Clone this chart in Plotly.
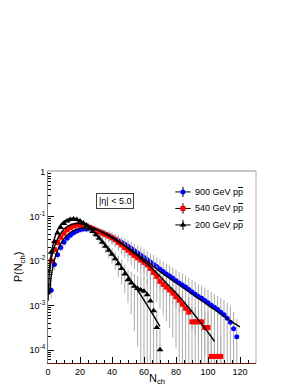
import plotly.graph_objects as go

# ---------------- data ----------------
n_900 = list(range(2, 120, 2))
p_900 = [0.0022, 0.0083, 0.0138, 0.0200, 0.0265, 0.0325, 0.038, 0.043, 0.047, 0.050,
         0.052, 0.0525, 0.052, 0.0505, 0.048, 0.0455, 0.043, 0.040, 0.037, 0.034,
         0.031, 0.0285, 0.026, 0.0236,
         0.0214, 0.0191, 0.0170, 0.0151, 0.0135, 0.0120, 0.0107, 0.0095, 0.0083, 0.0074,
         0.0065, 0.0058, 0.0051, 0.0046, 0.0041, 0.0036, 0.0032, 0.0029, 0.0026, 0.0023,
         0.0020, 0.0018, 0.0016, 0.00145, 0.00129, 0.00115, 0.00102, 0.00091, 0.00081,
         0.00071, 0.00062, 0.00052, 0.00042, 0.0003, 0.0002]
rel_900 = [.35, .25, .2, .18, .16, .15, .15, .15, .15, .15,
           .16, .17, .18, .19, .2, .22, .24, .26, .28, .3,
           .32, .34, .36, .38, .4, .42, .45, .48, .51, .54,
           .57, .6, .62, .64, .66, .68, .7, .72, .74, .76,
           .78, .8, .82, .84, .86, .88, .9, .92, .94, .96,
           .98, 1.0, 1.05, 1.1, 1.15, 1.2, 1.3, 1.4, 1.5]

n_540 = list(range(2, 110, 2))
p_540 = [0.010, 0.018, 0.026, 0.034, 0.042, 0.050, 0.056, 0.061, 0.064, 0.065,
         0.064, 0.061, 0.057, 0.053, 0.049, 0.045, 0.042, 0.039, 0.036, 0.033,
         0.030, 0.026, 0.023, 0.020, 0.0175, 0.0152, 0.0133, 0.0118, 0.0105, 0.0093,
         0.0082, 0.0068, 0.0055, 0.0045, 0.0035, 0.0030, 0.0026, 0.00224, 0.0019, 0.00158,
         0.00132, 0.00107, 0.00087, 0.00071, 0.00043, 0.00043, 0.00043, 0.00043, 0.00032, 0.00032,
         7.2e-5, 7.2e-5, 7.2e-5, 7.2e-5]
rel_540 = [.3, .22, .18, .16, .15, .14, .14, .14, .14, .14,
           .15, .16, .17, .18, .2, .22, .24, .26, .28, .3,
           .32, .35, .38, .41, .44, .47, .5, .53, .56, .6,
           .63, .66, .7, .73, .76, .8, .83, .86, .9, .93,
           .96, 1.0, 1.05, 1.1, 1.2, 1.2, 1.2, 1.2, 1.3, 1.3,
           2.0, 2.0, 2.0, 2.0]

n_200 = list(range(0, 72, 2))
p_200 = [0.0059, 0.0158, 0.0275, 0.0427, 0.0562, 0.0692, 0.0794, 0.0851, 0.0871, 0.0851,
         0.0794, 0.0708, 0.0631, 0.0537, 0.0457, 0.0389, 0.0324, 0.0263, 0.0214, 0.0174,
         0.0141, 0.0112, 0.0087, 0.0068, 0.0051, 0.0038, 0.0032, 0.0027, 0.0024, 0.00224,
         0.00209, 0.00174, 0.00126, 0.00076, 0.00032, 0.000102]
rel_200 = [.4, .25, .15, .12, .1, .1, .1, .1, .1, .1,
           .11, .12, .14, .16, .18, .2, .23, .26, .3, .34,
           .38, .43, .5, .56, .63, .7, .8, .9, .95, 1.0,
           1.05, 1.1, 1.2, 1.3, 1.5, 2.0]

# NBD fit curves
fit_n_900 = [1, 2, 4, 6, 8, 10, 12, 14, 16, 18, 20, 22, 24, 26, 28, 32, 36, 40, 44, 48,
             52, 56, 60, 64, 68, 72, 76, 80, 84, 88, 92, 96, 100, 104, 108, 112, 116, 120]
fit_p_900 = [0.00178, 0.00447, 0.01047, 0.01738, 0.02455, 0.03162, 0.038, 0.04365, 0.04786, 0.05129,
             0.0537, 0.05495, 0.05495, 0.0543, 0.05248, 0.04786, 0.04169, 0.03467, 0.02818, 0.02239,
             0.01778, 0.01413, 0.01096, 0.00851, 0.00661, 0.00513, 0.00407, 0.00324, 0.00257, 0.00204,
             0.00162, 0.00129, 0.00102, 0.000813, 0.000646, 0.000513, 0.000407, 0.000331]
fit_n_540 = [1, 2, 4, 6, 8, 10, 12, 14, 16, 18, 20, 22, 24, 28, 32, 36, 40, 44, 48, 52,
             56, 60, 64, 68, 72, 76, 80, 84, 88, 92, 96, 100, 104]
fit_p_540 = [0.00631, 0.01122, 0.0209, 0.0316, 0.0417, 0.0513, 0.0589, 0.0646, 0.0676, 0.0692,
             0.0692, 0.0676, 0.0646, 0.0562, 0.0479, 0.0398, 0.0331, 0.0269, 0.0214, 0.0166,
             0.0129, 0.00977, 0.00741, 0.00537, 0.0038, 0.00269, 0.00191, 0.00132, 0.00089, 0.00059,
             0.00038, 0.000251, 0.000158]
fit_n_200 = [0, 1, 2, 4, 6, 8, 10, 12, 14, 16, 18, 20, 24, 28, 32, 36, 40, 44, 48, 52,
             56, 60, 64, 68, 70]
fit_p_200 = [0.00126, 0.00631, 0.01413, 0.0316, 0.0501, 0.0661, 0.0776, 0.0851, 0.0891, 0.0891,
             0.0851, 0.0794, 0.0631, 0.0468, 0.0324, 0.0219, 0.01445, 0.00933, 0.00589, 0.00363,
             0.00219, 0.00132, 0.000776, 0.000447, 0.000339]

PBAR = "p<span style='text-decoration:overline'>p</span>"
labels = ["900 GeV " + PBAR, "540 GeV " + PBAR, "200 GeV " + PBAR]
y_tickvals = [1e-4, 1e-3, 1e-2, 1e-1, 1]
y_ticktext = ["10<sup>-4</sup>", "10<sup>-3</sup>", "10<sup>-2</sup>", "10<sup>-1</sup>", "1"]

FONT = "Liberation Sans, Arial, sans-serif"
ERRC = "#ababab"

series = [
    (n_900, p_900, rel_900, fit_n_900, fit_p_900, "#0000ff", "circle", 5, labels[0]),
    (n_540, p_540, rel_540, fit_n_540, fit_p_540, "#ff0000", "square", 5, labels[1]),
    (n_200, p_200, rel_200, fit_n_200, fit_p_200, "#000000", "triangle-up", 6, labels[2]),
]

fig = go.Figure()
for n, p, rel, fn, fp, col, sym, sz, lab in series:
    err = [v * r for v, r in zip(p, rel)]
    fig.add_trace(go.Scatter(
        x=n, y=p, mode="markers",
        marker=dict(color=col, symbol=sym, size=sz, line=dict(width=0)),
        error_y=dict(type="data", array=err, arrayminus=err, color=ERRC,
                     thickness=1, width=0, visible=True),
        showlegend=False, hoverinfo="skip"))
for n, p, rel, fn, fp, col, sym, sz, lab in series:
    fig.add_trace(go.Scatter(
        x=fn, y=fp, mode="lines", line=dict(color="black", width=1.4, shape="spline"),
        showlegend=False, hoverinfo="skip"))

# legend drawn on an overlay axis (paper-like 0..1 coordinates)
leg_y = [0.891, 0.805, 0.719]
leg_x = 0.649
for (n, p, rel, fn, fp, col, sym, sz, lab), ly in zip(series, leg_y):
    fig.add_trace(go.Scatter(
        x=[leg_x], y=[ly], xaxis="x2", yaxis="y2", mode="markers",
        marker=dict(color=col, symbol=sym, size=sz, line=dict(width=0)),
        error_x=dict(type="constant", value=0.037, color="black", thickness=1, width=0),
        error_y=dict(type="constant", value=0.027, color="black", thickness=1, width=0),
        showlegend=False, hoverinfo="skip", cliponaxis=False))

annotations = [
    dict(text="|\u03b7| < 5.0", xref="paper", yref="paper", x=0.231, y=0.883,
         showarrow=False, font=dict(size=9), bgcolor="white",
         bordercolor="#404040", borderwidth=1, borderpad=2),
    dict(text="N<sub>ch</sub>", xref="paper", yref="paper", x=0.522, y=-0.083,
         xanchor="center", yanchor="middle", showarrow=False, font=dict(size=11)),
]
for lab, ly in zip(labels, leg_y):
    annotations.append(dict(text=lab, xref="paper", yref="paper", x=0.697, y=ly,
                            xanchor="left", yanchor="middle", showarrow=False,
                            font=dict(size=9)))

fig.update_layout(
    width=298, height=385,
    margin=dict(l=40, r=50, t=163, b=30, autoexpand=False),
    paper_bgcolor="white", plot_bgcolor="white",
    font=dict(family=FONT, size=9, color="black"),
    showlegend=False,
    xaxis=dict(range=[0, 130], dtick=20, tick0=0, showgrid=False, zeroline=False,
               ticks="inside", ticklen=6, tickcolor="black", tickwidth=1,
               minor=dict(dtick=5, ticks="inside", ticklen=3, tickcolor="black"),
               showline=True, linecolor="#6b1a1a", linewidth=1,
               tickfont=dict(size=9)),
    yaxis=dict(type="log", range=[-4.29, 0.02], showgrid=False, zeroline=False,
               tickvals=y_tickvals, ticktext=y_ticktext,
               ticks="inside", ticklen=6, tickcolor="black", tickwidth=1,
               minor=dict(tickvals=[k * 10 ** d for d in range(-5, 0) for k in range(2, 10)],
                          ticks="inside", ticklen=3, tickcolor="black"),
               showline=True, linecolor="#808080", linewidth=1,
               tickfont=dict(size=9),
               title=dict(text="P(N<sub>ch</sub>)", font=dict(size=11), standoff=4)),
    xaxis2=dict(range=[0, 1], overlaying="x", visible=False, fixedrange=True),
    yaxis2=dict(range=[0, 1], overlaying="y", visible=False, fixedrange=True),
    shapes=[
        dict(type="line", xref="paper", yref="paper", x0=0, x1=1, y0=1, y1=1,
             line=dict(color="#909090", width=1)),
        dict(type="line", xref="paper", yref="paper", x0=1, x1=1, y0=0, y1=1,
             line=dict(color="#d49a9a", width=1)),
    ],
    annotations=annotations,
)

fig.write_html("out.html")
